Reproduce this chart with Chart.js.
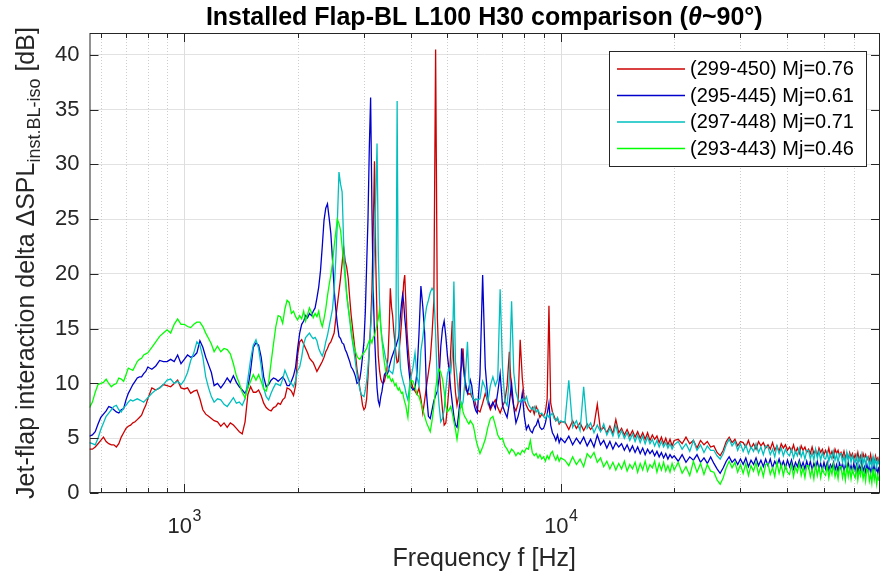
<!DOCTYPE html>
<html>
<head>
<meta charset="utf-8">
<script src="https://cdn.jsdelivr.net/npm/chart.js@4.4.1/dist/chart.umd.min.js"></script>
<style>
  html, body { margin: 0; padding: 0; background: #ffffff; }
  canvas { display: block; }
</style>
</head>
<body>
<canvas id="c" width="880" height="578"></canvas>
<script>
// ---------------- DATA ----------------
const freq = [
  560,570,580,590,600,610,620,630,640,650,660,670,680,690,700,710,720,730,740,750,760,770,780,790,800,
  820,840,860,880,900,920,940,960,980,1000,1020,1040,1060,1080,1100,1120,1140,1160,1180,1200,
  1225,1250,1275,1300,1325,1350,1375,1400,1425,1450,1475,1500,1525,1550,1575,1600,1625,1650,1675,1700,1725,1750,1775,1800,1825,1850,1875,1900,1925,1950,1975,2000,
  2025,2050,2075,2100,2125,2150,2175,2200,2225,2250,2275,2300,2325,2350,2375,2400,2425,2450,2475,2500,
  2525,2550,2575,2600,2625,2650,2675,2700,2725,2750,2775,2800,2825,2850,2875,2900,2925,2950,2975,3000,
  3025,3050,3075,3100,3125,3150,3175,3200,3225,3250,3275,3300,3325,3350,3375,3400,3425,3450,3475,3500,
  3525,3550,3575,3600,3625,3650,3675,3700,3725,3750,3775,3800,3825,3850,3875,3900,3925,3950,3975,4000,
  4050,4100,4150,4200,4250,4300,4350,4400,4450,4500,4550,4600,4650,4700,4750,4800,4850,4900,4950,5000,
  5050,5100,5150,5200,5250,5300,5350,5400,5450,5500,5550,5600,5650,5700,5750,5800,5850,5900,5950,6000,
  6100,6200,6300,6400,6500,6600,6700,6800,6900,7000,7100,7200,7300,7400,7500,7600,7700,7800,7900,8000,
  8100,8200,8300,8400,8500,8600,8700,8800,8900,9000,9100,9200,9300,9400,9500,9600,9700,9800,9900,10000,
  10250,10500,10750,11000,11250,11500,11750,12000,12250,12500,12750,13000,13250,13500,13750,14000,14250,14500,14750,15000,
  15250,15500,15750,16000,16250,16500,16750,17000,17250,17500,17750,18000,18250,18500,18750,19000,19250,19500,19750,20000,
  20500,21000,21500,22000,22500,23000,23500,24000,24500,25000,25500,26000,26500,27000,27500,28000,28500,29000,29500,30000,
  30500,31000,31500,32000,32500,33000,33500,34000,34500,35000,35500,36000,36500,37000,37500,38000,38500,39000,39500,40000,
  40500,41000,41500,42000,42500,43000,43500,44000,44500,45000,45500,46000,46500,47000,47500,48000,48500,49000,49500,50000,
  50500,51000,51500,52000,52500,53000,53500,54000,54500,55000,55500,56000,56500,57000,57500,58000,58500,59000,59500,60000,
  60500,61000,61500,62000,62500,63000,63500,64000,64500,65000,65500,66000,66500,67000,67500,68000,68500,69000,69500,70000
];

// (299-450) Mj=0.76
const red = [
  4.0,4.0,4.2,4.5,4.8,5.1,4.7,4.5,4.4,4.4,4.2,4.5,5.1,5.5,5.9,6.1,6.2,6.4,6.5,6.7,6.9,7.1,7.6,8.0,8.6,
  9.6,9.4,9.6,9.9,9.8,9.7,10.0,10.3,9.6,9.5,9.6,9.1,9.3,9.4,8.6,7.6,7.2,7.0,6.8,6.6,
  6.5,6.1,6.4,6.0,6.4,6.2,5.9,5.6,5.4,6.5,9.0,9.7,9.2,9.2,9.4,8.9,8.2,7.8,7.6,7.5,7.8,7.9,8.2,8.1,8.5,8.7,9.6,9.5,9.3,8.9,9.8,12.6,
  13.8,14.0,13.6,13.2,12.8,12.3,12.1,11.9,11.5,11.1,11.4,11.7,12.0,12.4,12.9,13.2,13.6,13.8,14.2,14.6,
  15.9,17.2,18.4,19.6,21.0,22.4,21.2,20.6,19.6,17.8,16.2,15.0,13.8,12.6,11.3,10.5,9.6,8.9,8.0,7.6,
  7.8,8.6,10.6,13.0,15.5,18.5,24.0,30.3,21.0,16.0,12.5,11.2,10.4,10.1,10.0,10.2,10.7,11.2,12.4,15.0,
  18.7,17.0,16.2,14.8,13.8,12.6,11.9,12.0,13.2,14.3,15.6,17.4,19.2,19.9,17.5,15.0,13.5,12.4,11.3,10.2,
  9.6,9.3,9.0,9.6,8.6,7.3,8.5,9.8,11.0,12.2,14.5,17.5,40.5,16.0,11.5,9.4,7.6,6.2,6.4,7.9,
  9.8,13.0,15.7,11.5,9.2,8.0,8.8,10.9,11.6,13.2,10.5,9.4,9.2,9.0,9.1,8.8,8.6,8.5,8.0,7.6,
  7.4,8.2,9.1,8.3,7.6,8.1,8.5,7.8,7.3,7.9,8.4,9.8,12.9,9.0,7.9,7.5,8.2,14.0,10.5,8.5,
  8.0,7.6,7.4,7.8,7.2,7.9,7.5,6.9,7.2,7.0,7.4,8.6,17.1,8.2,7.4,7.0,6.6,6.8,6.3,6.5,
  6.5,5.8,6.6,5.9,6.4,5.7,6.3,5.8,6.2,8.1,5.7,6.0,5.5,6.1,5.4,6.7,5.5,5.9,5.3,5.8,
  5.2,5.7,5.1,5.6,5.0,5.5,4.9,5.5,4.8,5.3,4.9,5.2,4.6,5.1,4.5,5.0,4.4,4.9,4.3,4.8,
  4.9,4.5,5.1,4.5,4.8,4.1,4.8,4.4,4.7,4.2,4.3,3.7,3.4,3.9,4.7,5.1,4.6,4.9,4.3,4.7,
  4.6,4.2,4.8,4.1,4.5,4.0,4.7,4.3,4.6,4.1,4.4,4.0,4.6,3.9,4.3,3.8,4.5,4.1,4.4,3.9,
  4.2,3.8,4.4,3.7,4.1,3.6,4.3,3.9,4.2,3.7,4.0,3.6,4.2,3.6,3.9,3.4,4.1,3.7,4.0,3.5,
  3.9,3.5,4.1,3.4,3.8,3.3,4.0,3.6,3.9,3.4,3.7,3.3,3.8,3.2,3.6,3.1,3.7,3.3,3.6,3.1,
  3.5,3.1,3.7,3.0,3.4,2.9,3.6,3.2,3.5,3.0,3.3,2.9,3.5,2.8,3.2,2.7,3.4,3.0,3.2,2.7
];

// (295-445) Mj=0.61
const blue = [
  5.2,5.3,5.6,6.3,6.9,7.2,7.5,7.9,7.8,7.6,7.4,7.3,7.6,7.7,8.5,9.1,9.5,9.9,10.2,10.5,10.6,10.6,10.9,11.1,11.5,
  11.3,11.6,12.1,12.0,12.0,12.2,12.0,12.6,11.8,12.2,12.6,12.4,12.5,12.8,13.9,13.3,12.4,11.7,11.0,9.8,
  10.0,9.6,10.0,10.5,10.1,10.7,10.1,9.7,9.4,9.1,9.6,11.2,13.3,13.7,13.5,12.4,10.6,9.7,9.9,10.3,10.5,10.4,10.2,10.4,10.6,10.3,9.8,9.8,10.2,10.7,11.5,13.2,
  14.6,15.4,15.7,16.2,16.0,16.4,16.2,16.6,16.9,17.8,18.8,20.3,22.5,24.9,26.0,26.4,25.1,23.7,21.3,18.6,
  16.8,15.4,14.3,14.1,13.7,13.6,13.1,12.8,12.4,12.0,11.5,11.3,11.0,10.6,10.0,10.1,10.4,11.3,12.5,13.8,
  16.5,20.8,25.0,31.5,36.1,26.0,18.5,14.5,11.8,9.6,8.4,8.0,8.8,9.3,10.1,10.8,11.0,10.8,11.0,11.5,
  11.9,12.3,12.6,12.9,13.2,13.4,13.8,14.1,14.9,16.2,17.3,18.1,17.4,16.0,15.0,13.5,12.2,11.2,10.3,9.7,
  9.4,9.6,11.0,14.5,18.9,17.0,14.5,9.0,7.0,6.8,7.6,8.4,8.9,9.3,10.5,13.4,15.0,15.7,14.3,12.5,
  11.2,9.5,8.2,7.0,6.2,6.0,7.1,8.6,13.2,11.8,10.6,9.8,9.1,9.6,10.3,9.8,8.6,7.9,7.5,7.3,
  10.8,19.9,11.5,8.6,7.8,8.3,7.7,9.2,10.9,8.0,7.4,6.9,8.2,10.0,7.8,6.4,7.0,7.8,9.1,7.0,
  5.8,6.2,5.7,5.5,6.0,6.2,6.7,6.0,5.8,5.9,6.4,7.2,8.2,6.2,5.5,5.2,4.8,5.3,4.6,5.0,
  4.6,5.2,4.4,5.0,4.5,5.1,4.3,4.9,4.2,5.3,4.4,4.8,4.1,4.7,4.0,4.6,4.2,4.5,3.9,4.4,
  3.8,4.3,3.7,4.2,3.6,4.1,3.5,4.0,3.6,3.9,3.4,3.8,3.3,3.7,3.2,3.6,3.1,3.5,3.2,3.4,
  2.9,3.5,2.8,3.3,3.0,3.5,2.8,3.2,2.7,3.3,2.7,2.2,1.8,2.3,2.9,3.3,2.8,3.1,2.6,3.1,
  2.6,3.2,2.4,3.0,2.6,3.2,2.5,3.0,2.4,3.1,2.5,3.1,2.3,2.9,2.5,3.1,2.4,2.9,2.3,3.0,
  2.4,3.0,2.2,2.8,2.4,3.0,2.3,2.8,2.2,2.9,2.3,2.9,2.1,2.7,2.3,2.9,2.2,2.7,2.1,2.8,
  2.2,2.8,2.1,2.6,2.3,2.8,2.1,2.6,2.0,2.7,2.2,2.7,2.0,2.6,2.2,2.8,2.1,2.5,2.0,2.7,
  2.1,2.6,1.9,2.5,2.1,2.7,2.0,2.4,1.9,2.6,2.0,2.5,1.8,2.4,2.0,2.6,1.9,2.3,1.8,2.4
];

// (297-448) Mj=0.71
const cyan = [
  4.6,4.5,4.4,5.0,5.8,6.4,7.0,7.3,7.6,7.9,8.0,7.6,7.4,7.8,8.0,8.3,8.5,8.4,8.5,8.6,8.5,8.4,8.3,8.5,8.7,
  9.1,9.4,9.6,9.9,10.3,10.4,10.0,10.2,9.9,10.3,11.0,12.1,12.8,13.8,13.5,12.4,10.6,9.6,8.8,8.3,
  8.6,8.5,8.1,7.9,8.3,8.7,8.2,8.3,8.0,8.6,10.4,12.2,13.5,14.0,13.2,11.6,9.6,8.8,8.5,9.1,9.6,10.0,9.9,9.8,10.4,11.2,10.7,10.2,10.0,9.7,10.3,11.2,
  11.5,12.4,13.6,14.2,14.4,14.6,14.3,14.1,14.2,13.9,13.2,12.8,12.5,13.0,13.8,14.4,15.2,16.0,16.8,18.5,
  21.3,24.8,29.3,28.2,27.5,22.8,20.0,18.2,16.9,15.8,14.6,13.7,12.8,11.8,10.8,10.1,9.5,9.0,8.9,8.8,
  9.4,10.2,11.5,13.2,15.0,16.8,19.0,22.5,27.0,31.9,22.0,17.5,15.2,14.1,13.5,12.9,12.3,11.9,11.5,11.2,
  11.1,11.0,10.9,11.4,12.6,16.0,35.8,18.0,13.5,11.4,10.8,10.4,10.0,9.7,9.2,8.8,8.5,9.3,10.1,10.6,
  11.5,12.8,10.6,9.8,13.0,14.2,15.8,17.0,17.6,18.3,18.7,18.4,14.5,10.0,8.0,6.5,6.8,7.6,9.4,10.9,
  11.4,11.0,12.5,19.3,12.0,10.6,9.0,8.2,7.9,8.3,9.8,11.6,13.8,10.5,9.3,9.0,8.6,8.4,8.6,8.5,
  8.6,10.2,9.6,8.3,9.8,10.6,9.8,10.4,18.6,11.5,8.4,8.0,10.5,17.5,11.0,9.2,8.5,8.3,8.6,8.4,
  8.8,8.1,7.8,7.6,7.9,7.4,7.6,7.2,7.3,7.0,6.8,7.2,6.9,7.1,7.3,6.8,6.6,6.9,6.4,6.6,
  6.4,10.3,6.0,6.6,5.7,9.7,5.9,6.4,5.5,6.2,5.6,6.3,5.3,5.9,5.2,6.2,5.1,5.7,5.0,5.5,
  4.8,5.4,4.7,5.3,4.6,5.2,4.5,5.1,4.5,4.9,4.3,4.8,4.2,4.7,4.2,4.6,4.1,4.5,4.0,4.4,
  4.7,4.0,4.5,3.8,4.8,3.9,4.4,3.7,4.3,3.9,3.9,3.4,3.1,3.6,4.4,4.9,4.3,4.7,3.9,4.5,
  3.8,4.4,3.6,4.2,3.8,4.5,3.7,4.2,3.5,4.3,4.2,3.5,4.0,3.3,4.3,3.6,4.1,3.4,4.0,3.6,
  3.4,4.0,3.2,3.8,3.4,4.1,3.3,3.8,3.1,3.9,3.9,3.1,3.7,3.0,4.0,3.2,3.8,3.0,3.7,3.2,
  3.1,3.7,2.9,3.5,3.1,3.8,3.0,3.5,2.8,3.6,3.6,2.8,3.4,2.7,3.7,3.0,3.5,2.8,3.4,3.0,
  2.8,3.4,2.6,3.2,2.8,3.5,2.7,3.2,2.5,3.3,3.2,2.5,3.0,2.3,3.3,2.6,3.1,2.4,3.0,2.6
];

// (293-443) Mj=0.46
const green = [
  7.8,8.3,9.2,9.9,10.0,10.1,10.4,10.0,9.7,9.9,10.0,10.5,10.4,10.2,10.8,11.4,11.3,11.2,11.6,12.0,12.2,12.3,12.6,12.7,12.8,
  13.3,13.8,14.3,14.6,14.9,14.6,15.4,15.9,15.4,15.4,15.2,15.1,15.4,15.6,15.6,15.2,14.6,14.1,13.6,12.9,
  13.4,12.9,13.2,13.1,12.7,11.8,10.7,10.0,9.2,8.7,9.6,10.2,10.8,10.3,10.8,10.2,9.5,9.3,10.1,11.9,13.6,15.2,16.2,16.1,15.5,16.8,17.6,17.4,16.4,16.6,16.1,15.8,
  16.2,15.9,16.6,15.7,16.3,16.9,16.5,16.0,16.4,16.1,16.6,15.7,15.2,15.9,16.8,18.0,19.0,19.9,21.0,22.5,
  23.8,25.0,24.6,24.0,22.5,21.0,19.6,18.0,17.0,16.0,15.0,14.0,13.3,12.9,12.5,12.3,12.2,12.4,12.7,12.8,
  13.0,13.2,13.6,13.9,14.0,13.7,14.2,14.4,14.9,15.4,15.9,16.7,15.2,13.9,12.8,11.9,11.2,10.8,10.5,10.7,
  10.4,10.2,10.4,10.1,9.8,10.0,9.6,9.4,9.6,9.3,9.1,9.2,8.7,8.3,8.0,7.4,6.9,8.2,9.6,10.3,
  10.2,9.7,9.0,8.8,8.2,7.6,7.0,6.4,6.0,5.6,6.6,7.9,9.5,10.6,11.3,11.0,10.4,9.3,7.9,7.4,
  7.6,7.9,7.3,6.5,5.8,4.9,5.9,7.6,8.2,7.4,7.0,6.8,6.5,6.3,6.6,6.4,6.2,5.6,4.9,4.4,
  3.6,4.2,4.9,6.0,6.8,7.0,6.2,5.3,4.9,5.0,4.3,4.0,3.6,4.0,3.8,3.4,3.7,3.5,3.9,3.7,
  4.1,4.0,4.8,3.7,3.4,3.6,3.2,3.5,3.1,3.3,2.9,3.4,3.1,3.6,3.8,3.3,3.0,3.4,2.9,3.2,
  3.0,2.5,3.3,2.6,3.1,2.4,3.6,3.2,3.7,2.8,3.2,2.4,2.9,2.2,2.8,2.1,2.7,2.2,2.9,2.0,
  2.6,2.2,2.8,1.9,2.7,2.1,2.9,2.0,2.6,2.3,2.9,1.9,2.7,2.1,2.8,2.0,2.5,1.9,2.7,2.1,
  2.8,1.8,2.4,1.6,2.9,1.9,2.7,1.7,2.6,2.0,1.9,1.2,0.8,1.4,2.3,2.9,2.3,2.8,1.9,2.6,
  1.8,2.7,1.6,2.5,2.0,2.8,1.7,2.4,1.5,2.6,2.7,1.7,2.3,1.5,2.8,1.8,2.6,1.6,2.5,1.9,
  1.7,2.6,1.5,2.4,1.9,2.7,1.6,2.3,1.4,2.5,2.5,1.5,2.2,1.3,2.6,1.6,2.4,1.4,2.3,1.8,
  1.6,2.5,1.4,2.3,1.7,2.6,1.5,2.1,1.3,2.4,2.4,1.4,2.1,1.2,2.5,1.5,2.3,1.3,2.2,1.7,
  1.4,2.3,1.2,2.1,1.6,2.4,1.3,2.0,1.1,2.2,2.1,1.1,1.7,0.9,2.2,1.2,1.9,0.8,1.6,1.1
];

const seriesNames = ['(299-450) Mj=0.76', '(295-445) Mj=0.61', '(297-448) Mj=0.71', '(293-443) Mj=0.46'];
const seriesColors = ['#cc0000', '#0000cc', '#00bfbf', '#00ff00'];
const yTicks = [0, 5, 10, 15, 20, 25, 30, 35, 40];
const xMajorTicks = [1000, 10000];
const xMajorLabels = [['10', '3'], ['10', '4']];
const xMinorTicks = [600, 700, 800, 900, 2000, 3000, 4000, 5000, 6000, 7000, 8000, 9000,
                     20000, 30000, 40000, 50000, 60000, 70000];
const titleParts = ['Installed Flap-BL L100 H30 comparison (', 'θ', '~90°)'];
const xLabel = 'Frequency f [Hz]';
const yLabelParts = ['Jet-flap interaction delta ', 'ΔSPL', 'inst.BL-iso', ' [dB]'];

// ---------------- CHART ----------------
const FONT = '"Liberation Sans", Arial, Helvetica, sans-serif';
const AXC = '#262626';

function mkDataset(i, vals, order) {
  return {
    label: seriesNames[i],
    data: freq.map((f, k) => ({ x: f, y: vals[k] })),
    borderColor: seriesColors[i],
    backgroundColor: seriesColors[i],
    borderWidth: 1.3,
    pointRadius: 0,
    tension: 0,
    fill: false,
    order: order
  };
}

function line(ctx, x1, y1, x2, y2) {
  ctx.beginPath(); ctx.moveTo(x1, y1); ctx.lineTo(x2, y2); ctx.stroke();
}

const decor = {
  id: 'decor',
  beforeDatasetsDraw(chart) {
    const { ctx, chartArea: a, scales: { x } } = chart;
    ctx.save();
    ctx.lineWidth = 1;
    ctx.strokeStyle = '#cdcdcd';
    ctx.setLineDash([1, 2]);
    for (const v of xMinorTicks) {
      const px = Math.round(x.getPixelForValue(v)) + 0.5;
      if (px > a.right - 1) continue;
      line(ctx, px, a.top, px, a.bottom);
    }
    ctx.setLineDash([]);
    ctx.strokeStyle = '#dedede';
    for (const v of xMajorTicks) {
      const px = Math.round(x.getPixelForValue(v)) + 0.5;
      line(ctx, px, a.top, px, a.bottom);
    }
    ctx.restore();
  },
  afterDatasetsDraw(chart) {
    const { ctx, chartArea: a, scales: { x, y } } = chart;
    const L = Math.round(a.left), R = Math.round(a.right) + 0.5;
    const T = Math.round(a.top) + 0.5, B = Math.round(a.bottom) - 0.5;
    ctx.save();
    ctx.strokeStyle = AXC;
    ctx.lineWidth = 1;
    ctx.strokeRect(L, T, R - L, B - T);
    for (const v of xMajorTicks) {
      const px = Math.round(x.getPixelForValue(v)) + 0.5;
      line(ctx, px, B, px, B - 8.5);
      line(ctx, px, T, px, T + 8.5);
    }
    for (const v of xMinorTicks) {
      const px = Math.round(x.getPixelForValue(v)) + 0.5;
      if (px > R - 1) continue;
      line(ctx, px, B, px, B - 4.5);
      line(ctx, px, T, px, T + 4.5);
    }
    for (const v of yTicks) {
      const py = Math.round(y.getPixelForValue(v)) + 0.5;
      line(ctx, L, py, L + 8.5, py);
      line(ctx, R, py, R - 8.5, py);
    }
    // legend
    const bx = 609.5, by = 51.5, bw = 257, bh = 115;
    ctx.fillStyle = '#ffffff';
    ctx.fillRect(bx, by, bw, bh);
    ctx.strokeStyle = AXC;
    ctx.strokeRect(bx, by, bw, bh);
    const rows = [68.5, 95, 121.5, 148];
    ctx.font = '20px ' + FONT;
    ctx.textBaseline = 'middle';
    ctx.textAlign = 'left';
    for (let i = 0; i < 4; i++) {
      ctx.strokeStyle = seriesColors[i];
      ctx.lineWidth = 1.3;
      line(ctx, 617, rows[i] + 0.5, 685, rows[i] + 0.5);
      ctx.fillStyle = '#000000';
      ctx.fillText(seriesNames[i], 690, rows[i] + 1);
    }
    ctx.restore();
  },
  afterDraw(chart) {
    const { ctx, chartArea: a, scales: { x } } = chart;
    ctx.save();
    ctx.fillStyle = AXC;
    ctx.textBaseline = 'alphabetic';
    ctx.textAlign = 'left';
    xMajorTicks.forEach((v, i) => {
      const px = x.getPixelForValue(v);
      ctx.font = '22px ' + FONT;
      const w1 = ctx.measureText(xMajorLabels[i][0]).width;
      ctx.font = '16px ' + FONT;
      const w2 = ctx.measureText(xMajorLabels[i][1]).width;
      const sx = px - (w1 + w2) / 2;
      ctx.font = '22px ' + FONT;
      ctx.fillText(xMajorLabels[i][0], sx, 533);
      ctx.font = '16px ' + FONT;
      ctx.fillText(xMajorLabels[i][1], sx + w1 + 0.5, 521);
    });
    const cx = (a.left + a.right) / 2;
    ctx.font = '25px ' + FONT;
    ctx.textAlign = 'center';
    ctx.fillText(xLabel, cx, 566);
    // title
    ctx.fillStyle = '#000000';
    ctx.textAlign = 'left';
    const tf = ['bold 25px ' + FONT, 'italic bold 25px ' + FONT, 'bold 25px ' + FONT];
    let tw = 0;
    const tws = titleParts.map((t, i) => { ctx.font = tf[i]; const w = ctx.measureText(t).width; tw += w; return w; });
    let tx = cx - tw / 2;
    titleParts.forEach((t, i) => { ctx.font = tf[i]; ctx.fillText(t, tx, 25); tx += tws[i]; });
    // y label (rotated)
    ctx.fillStyle = AXC;
    const yf = ['25px ' + FONT, '25px ' + FONT, '18px ' + FONT, '25px ' + FONT];
    const yoff = [0, 0, 6, 0];
    let yw = 0;
    const yws = yLabelParts.map((t, i) => { ctx.font = yf[i]; const w = ctx.measureText(t).width; yw += w; return w; });
    const cy = (a.top + a.bottom) / 2;
    ctx.translate(34, cy + yw / 2);
    ctx.rotate(-Math.PI / 2);
    let yx = 0;
    yLabelParts.forEach((t, i) => { ctx.font = yf[i]; ctx.fillText(t, yx, yoff[i]); yx += yws[i]; });
    ctx.restore();
  }
};

new Chart(document.getElementById('c'), {
  type: 'line',
  data: {
    datasets: [
      mkDataset(0, red, 4),
      mkDataset(1, blue, 3),
      mkDataset(2, cyan, 2),
      mkDataset(3, green, 1)
    ]
  },
  options: {
    responsive: false,
    animation: false,
    devicePixelRatio: 1,
    layout: { padding: { left: 0, right: 1, top: 33, bottom: 85 } },
    plugins: { legend: { display: false }, title: { display: false }, tooltip: { enabled: false } },
    scales: {
      x: { type: 'logarithmic', min: 560, max: 70000, display: false },
      y: {
        min: 0, max: 42,
        afterFit(s) { s.width = 89.5; },
        afterBuildTicks(s) { s.ticks = yTicks.map(v => ({ value: v })); },
        ticks: { font: { family: FONT, size: 22 }, color: AXC, padding: 10 },
        grid: { color: '#e2e2e2', drawTicks: false, lineWidth: 1 },
        border: { display: false }
      }
    }
  },
  plugins: [decor]
});
</script>
</body>
</html>
